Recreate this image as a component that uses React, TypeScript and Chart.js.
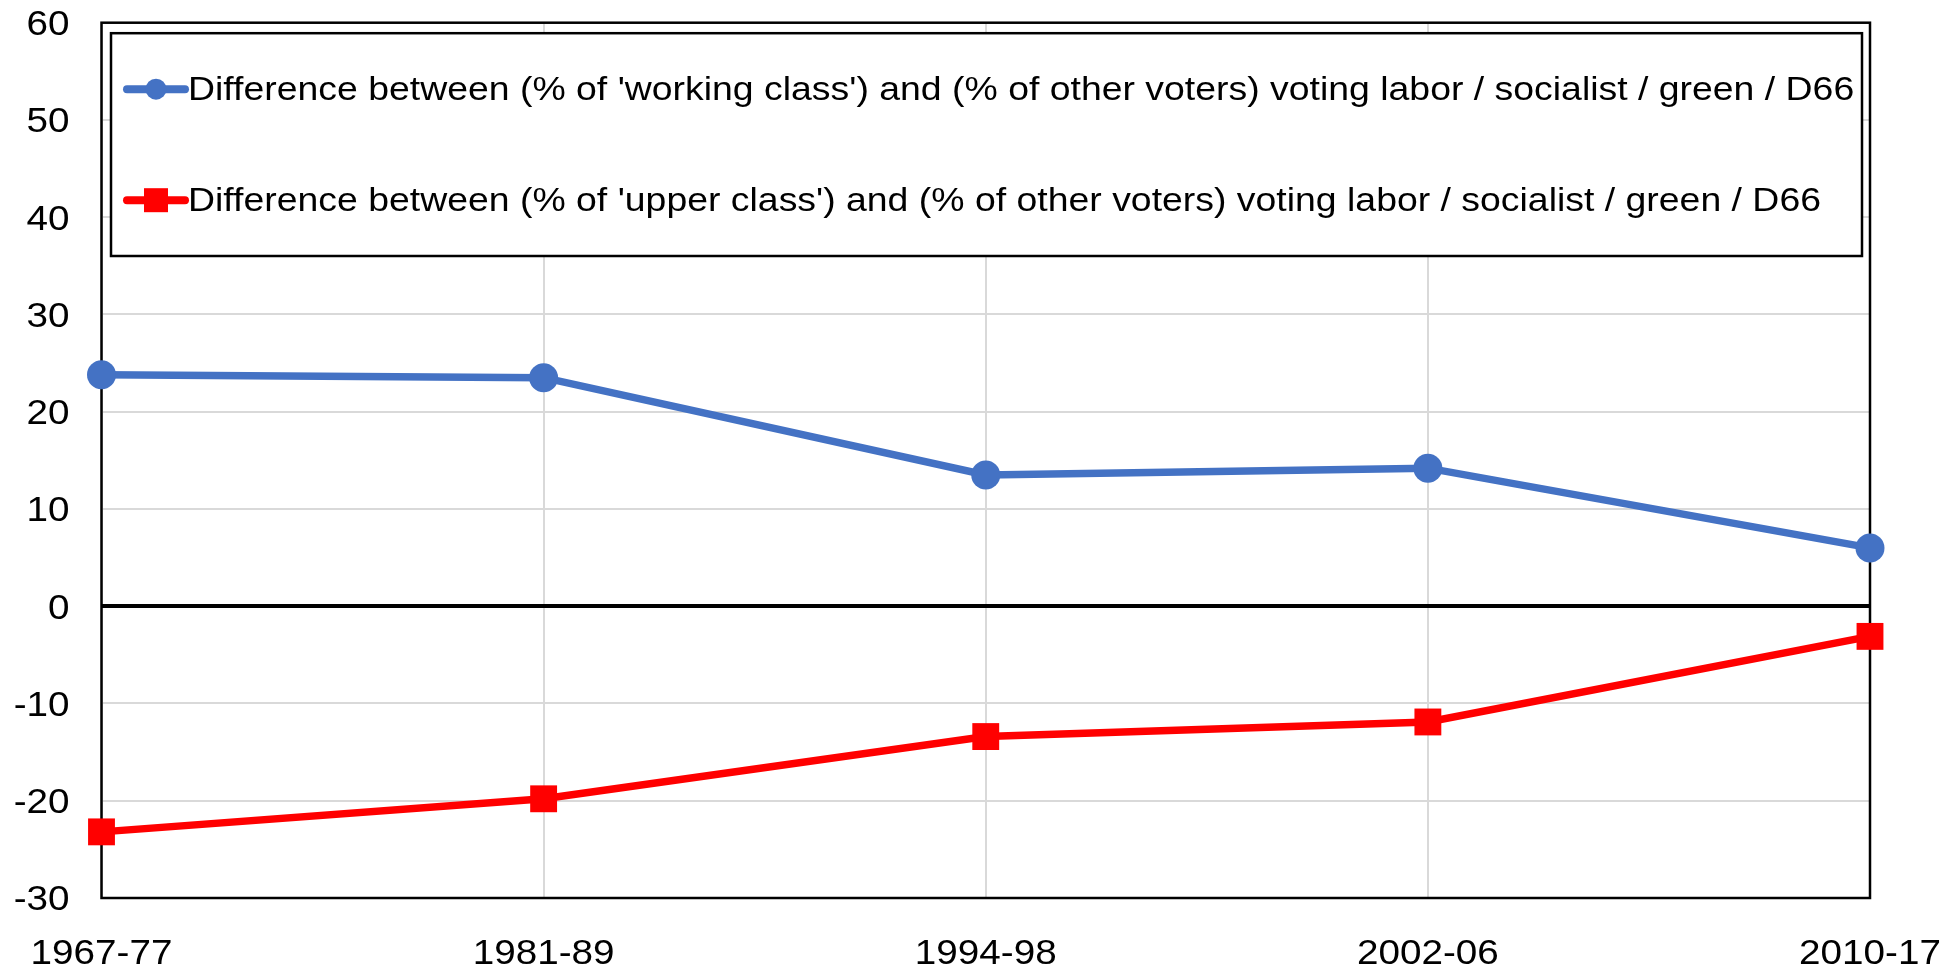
import React, { useEffect, useRef } from "react";
import { Chart, registerables } from "chart.js";

Chart.register(...registerables);

const categories = ["1967-77", "1981-89", "1994-98", "2002-06", "2010-17"];
const workingClassDiff = [23.8, 23.5, 13.5, 14.2, 6.0];
const upperClassDiff = [-23.2, -19.8, -13.4, -11.9, -3.1];
const seriesLabels = [
  "Difference between (% of 'working class') and (% of other voters) voting labor / socialist / green / D66",
  "Difference between (% of 'upper class') and (% of other voters) voting labor / socialist / green / D66",
];
const seriesColors = ["#4472C4", "#FF0000"];
const yMin = -30;
const yMax = 60;
const yStep = 10;

const FONT = "'Liberation Sans', Arial, sans-serif";
const TICK_FONT = `34.5px ${FONT}`;
const TICK_STRETCH = 1.12;

function stretchedText(ctx: CanvasRenderingContext2D, text: string, x: number, y: number, sx: number, align: "left" | "right" | "center") {
  ctx.save();
  ctx.translate(x, y);
  ctx.scale(sx, 1);
  ctx.textAlign = align;
  ctx.fillText(text, 0, 0);
  ctx.restore();
}

const frameLabelsLegend = {
  id: "frameLabelsLegend",
  beforeDatasetsDraw(chart: any) {
    const { ctx, chartArea } = chart;
    ctx.save();
    ctx.strokeStyle = "#000";
    ctx.lineWidth = 2.5;
    ctx.strokeRect(chartArea.left, chartArea.top, chartArea.right - chartArea.left, chartArea.bottom - chartArea.top);
    // tick labels from the library's scales
    ctx.fillStyle = "#000";
    ctx.font = TICK_FONT;
    ctx.textBaseline = "alphabetic";
    const ys = chart.scales.y;
    ys.ticks.forEach((t: any, i: number) => {
      const py = ys.getPixelForTick(i);
      stretchedText(ctx, String(t.label), chartArea.left - 32, py + 12.3, TICK_STRETCH, "right");
    });
    const xs = chart.scales.x;
    xs.ticks.forEach((t: any, i: number) => {
      const px = xs.getPixelForTick(i);
      stretchedText(ctx, String(xs.getLabelForValue(t.value)), px, chartArea.bottom + 65.5, TICK_STRETCH, "center");
    });
    ctx.restore();
  },
  afterDraw(chart: any) {
    const { ctx, chartArea } = chart;
    const bx = chartArea.left + 9.5;
    const by = chartArea.top + 10.5;
    const bw = chartArea.right - 8 - bx;
    const bh = 256 - by;
    ctx.save();
    ctx.fillStyle = "#fff";
    ctx.fillRect(bx, by, bw, bh);
    ctx.strokeStyle = "#000";
    ctx.lineWidth = 2.5;
    ctx.strokeRect(bx, by, bw, bh);
    const rows = [by + 56, by + 167];
    chart.data.datasets.forEach((ds: any, i: number) => {
      const y = rows[i];
      const x0 = bx + 16;
      const x1 = bx + 74;
      const cx = (x0 + x1) / 2;
      ctx.strokeStyle = ds.borderColor;
      ctx.lineWidth = 8;
      ctx.lineCap = "round";
      ctx.beginPath();
      ctx.moveTo(x0, y);
      ctx.lineTo(x1, y);
      ctx.stroke();
      ctx.fillStyle = ds.borderColor;
      if (ds.pointStyle === "rect") {
        ctx.fillRect(cx - 12, y - 12, 24, 24);
      } else {
        ctx.beginPath();
        ctx.arc(cx, y, 10.5, 0, Math.PI * 2);
        ctx.fill();
      }
      ctx.fillStyle = "#000";
      ctx.font = `34px ${FONT}`;
      ctx.textBaseline = "middle";
      stretchedText(ctx, ds.label, bx + 77, y + 1, 1.1, "left");
    });
    ctx.restore();
  },
};

export default function App() {
  const ref = useRef<HTMLCanvasElement>(null);
  useEffect(() => {
    if (!ref.current) return;
    const chart = new Chart(ref.current, {
      type: "line",
      data: {
        labels: categories,
        datasets: [
          {
            label: seriesLabels[0],
            data: workingClassDiff,
            borderColor: seriesColors[0],
            backgroundColor: seriesColors[0],
            pointBackgroundColor: seriesColors[0],
            pointBorderWidth: 0,
            pointStyle: "circle",
            pointRadius: 14.5,
            borderWidth: 7.5,
            tension: 0,
            clip: false as any,
          },
          {
            label: seriesLabels[1],
            data: upperClassDiff,
            borderColor: seriesColors[1],
            backgroundColor: seriesColors[1],
            pointBackgroundColor: seriesColors[1],
            pointBorderWidth: 0,
            pointStyle: "rect",
            pointRadius: 19,
            borderWidth: 7.5,
            tension: 0,
            clip: false as any,
          },
        ],
      },
      options: {
        responsive: false,
        animation: false,
        layout: { padding: { left: 17.5, right: 89, top: 22.7, bottom: 0 } },
        plugins: {
          legend: { display: false },
          tooltip: { enabled: false },
          title: { display: false },
        },
        scales: {
          x: {
            offset: false,
            grid: { color: "#d9d9d9", lineWidth: 2, drawTicks: false, tickLength: 0 },
            border: { display: false },
            ticks: { display: false, autoSkip: false, maxRotation: 0 },
            afterFit: (s: any) => {
              s.height = 72;
              s.paddingLeft = 0;
              s.paddingRight = 0;
            },
          },
          y: {
            min: yMin,
            max: yMax,
            grid: {
              color: (c: any) => (c.tick && c.tick.value === 0 ? "#000" : "#d9d9d9"),
              lineWidth: (c: any) => (c.tick && c.tick.value === 0 ? 4 : 2),
              drawTicks: false,
              tickLength: 0,
            },
            border: { display: false },
            ticks: { display: false, stepSize: yStep },
            afterFit: (s: any) => {
              s.width = 84;
              s.paddingTop = 0;
              s.paddingBottom = 0;
            },
          },
        },
      },
      plugins: [frameLabelsLegend],
    });
    return () => chart.destroy();
  }, []);
  return (
    <div style={{ position: "fixed", left: 0, top: 0, width: 1959, height: 970, background: "#fff" }}>
      <canvas ref={ref} width={1959} height={970} style={{ display: "block" }} />
    </div>
  );
}
